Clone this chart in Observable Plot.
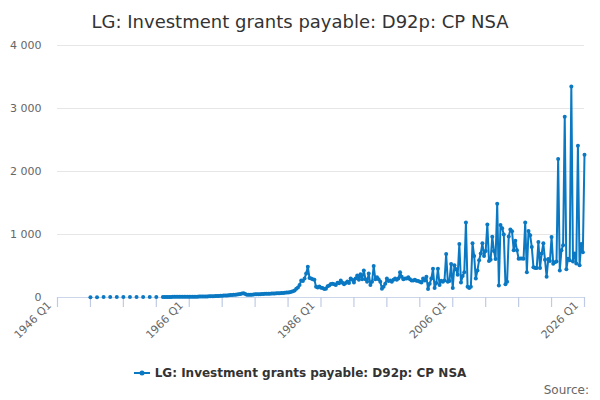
<!DOCTYPE html>
<html><head><meta charset="utf-8">
<script src="https://cdn.jsdelivr.net/npm/d3@7"></script>
<script src="https://cdn.jsdelivr.net/npm/@observablehq/plot@0.6"></script>
<style>
body{margin:0;background:#fff;font-family:"DejaVu Sans",sans-serif;}
#wrap{position:relative;width:600px;height:400px;overflow:hidden;background:#fff;}
#title{position:absolute;left:0;top:11px;width:600px;text-align:center;font-size:18px;color:#333;white-space:nowrap;}
#chart{position:absolute;left:0;top:40px;}
#legend{position:absolute;top:366px;left:0;width:600px;text-align:center;font-size:12px;font-weight:bold;color:#333;white-space:nowrap;}
#legend svg{vertical-align:-1px;margin-right:5px;}
#source{position:absolute;right:11px;top:383px;font-size:12px;color:#666;}
</style></head>
<body>
<div id="wrap">
  <div id="title"></div>
  <div id="chart"></div>
  <div id="legend"></div>
  <div id="source">Source:</div>
</div>
<script>
const titleText = "LG: Investment grants payable: D92p: CP NSA";
const seriesName = "LG: Investment grants payable: D92p: CP NSA";
const lineColor = "#0a78c2";

// Annual observations (plotted at Q1 of each year)
const annualYears = [1951,1952,1953,1954,1955,1956,1957,1958,1959,1960,1961];
const annualValues = [5,5,6,6,6,7,7,7,8,8,8];

// Quarterly observations from 1962 Q1 to 2026 Q1
const quarterlyStartYear = 1962;
const quarterlyValues = [
  8,8,9,9,          // 1962
  9,9,10,10,        // 1963
  10,10,10,10,      // 1964
  10,11,11,11,      // 1965
  12,12,12,12,      // 1966
  13,13,14,14,      // 1967
  15,15,16,17,      // 1968
  18,19,20,21,      // 1969
  22,23,25,26,      // 1970
  28,30,32,33,      // 1971
  35,38,40,42,      // 1972
  45,48,52,55,      // 1973
  62,66,55,45,      // 1974
  42,42,45,48,      // 1975
  50,50,52,53,      // 1976
  55,56,58,58,      // 1977
  60,60,62,63,      // 1978
  65,66,68,68,      // 1979
  70,72,75,78,      // 1980
  80,85,90,100,     // 1981
  110,140,160,200,  // 1982
  270,260,300,380,  // 1983
  490,310,300,290,  // 1984
  280,170,160,175,  // 1985
  155,150,135,140,  // 1986
  180,190,215,220,  // 1987
  210,200,235,225,  // 1988
  270,235,210,230,  // 1989
  255,230,300,280,  // 1990
  240,300,350,280,  // 1991
  370,290,430,290,  // 1992
  250,380,200,250,  // 1993
  500,290,320,290,  // 1994
  250,140,170,220,  // 1995
  300,260,270,250,  // 1996
  280,300,280,300,  // 1997
  400,330,290,300,  // 1998
  300,320,290,270,  // 1999
  270,280,265,260,  // 2000
  250,240,300,270,  // 2001
  330,135,220,300,  // 2002
  455,150,230,455,  // 2003
  200,265,250,270,  // 2004
  690,250,260,530,  // 2005
  150,510,450,360,  // 2006
  850,240,340,400,  // 2007
  1190,170,150,170, // 2008
  860,660,300,430,  // 2009
  590,700,860,660,  // 2010
  740,1160,580,600, // 2011
  965,740,610,1490, // 2012
  190,1150,1100,1000, // 2013
  210,250,970,1080, // 2014
  1050,750,900,750, // 2015
  615,620,620,615,  // 2016
  1190,400,1055,990, // 2017
  800,480,470,470,  // 2018
  880,470,700,860,  // 2019
  600,330,610,580,  // 2020
  960,535,560,570,  // 2021
  2200,430,750,830, // 2022
  2870,450,615,590, // 2023
  3350,570,700,540, // 2024
  2410,510,850,720, // 2025
  2265              // 2026
];

const yTicks = [0,1000,2000,3000,4000];
const xMinorTicks = [1946,1951,1956,1961,1966,1971,1976,1981,1986,1991,1996,2001,2006,2011,2016,2021,2026];
const xLabelYears = [1946,1966,1986,2006,2026];
const xLabels = ["1946 Q1","1966 Q1","1986 Q1","2006 Q1","2026 Q1"];

const labelMap = new Map(xLabelYears.map((y,i)=>[y,xLabels[i]]));
const qData = quarterlyValues.map((v,i)=>({t: quarterlyStartYear + i/4, v}));
const aData = annualYears.map((y,i)=>({t:y, v:annualValues[i]}));

document.getElementById("title").textContent = titleText;

const chart = Plot.plot({
  width: 600, height: 320,
  marginTop: 5, marginBottom: 63, marginLeft: 57, marginRight: 16,
  style: {fontFamily: "DejaVu Sans", fontSize: "11px", color: "#666", background: "#fff", overflow: "visible"},
  x: {domain: [1946, 2026]},
  y: {domain: [0, 4000]},
  marks: [
    Plot.ruleY(yTicks.filter(d => d > 0), {stroke: "#e6e6e6", strokeWidth: 1}),
    Plot.axisY({ticks: yTicks, tickSize: 0, tickPadding: 16, fill: "#666",
      tickFormat: d => d3.format(",")(d).replace(/,/g, " "), label: null}),
    Plot.ruleY([0], {stroke: "#ccd6eb", strokeWidth: 1}),
    Plot.ruleX(xMinorTicks, {x: d => d, y1: 0, y2: 0, insetBottom: -10, stroke: "#bfcbe4", strokeWidth: 1.2}),
    Plot.axisX({ticks: xLabelYears, tickSize: 0, tickPadding: 6, dx: -8, fill: "#666",
      tickRotate: -45, tickFormat: d => labelMap.get(d) ?? "", label: null}),
    Plot.line(qData, {x: "t", y: "v", stroke: lineColor, strokeWidth: 2}),
    Plot.dot(qData, {x: "t", y: "v", r: 2, fill: lineColor}),
    Plot.dot(aData, {x: "t", y: "v", r: 2, fill: lineColor})
  ]
});
document.getElementById("chart").appendChild(chart);

document.getElementById("legend").innerHTML =
  `<svg width="16" height="10"><line x1="0" y1="5" x2="16" y2="5" stroke="${lineColor}" stroke-width="2"/><circle cx="8" cy="5" r="2.5" fill="${lineColor}"/></svg>` +
  seriesName;
</script>
</body></html>
